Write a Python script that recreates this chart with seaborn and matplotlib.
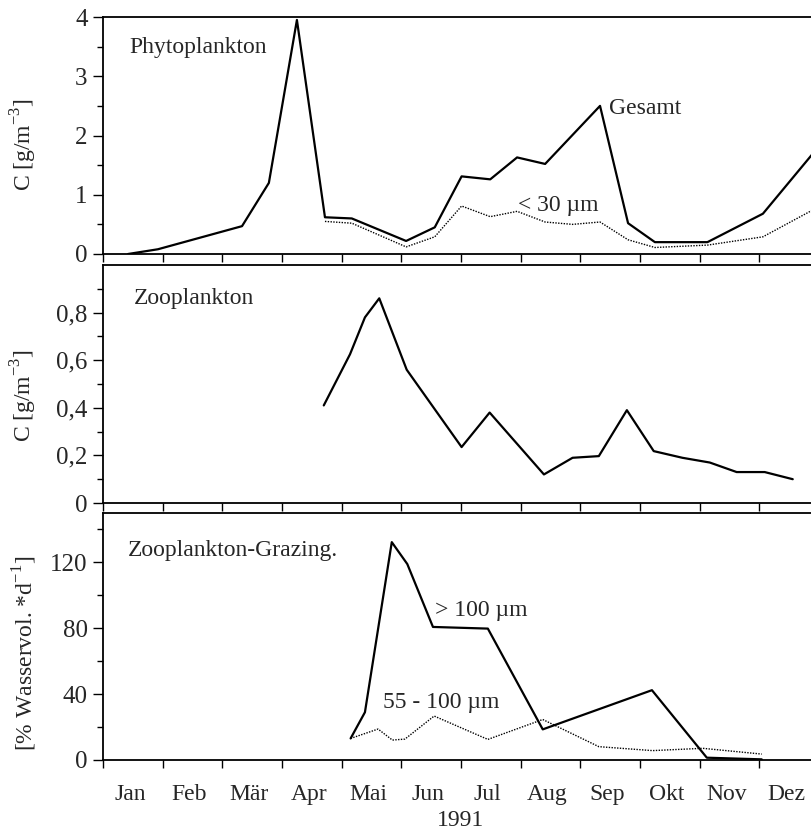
import matplotlib
matplotlib.use("Agg")
import matplotlib.pyplot as plt
import seaborn as sns
import pandas as pd
from matplotlib.ticker import MultipleLocator, FixedLocator

sns.set_style("ticks")
plt.rcParams['font.family'] = ['Liberation Serif', 'DejaVu Serif']
plt.rcParams['mathtext.fontset'] = 'custom'
plt.rcParams['mathtext.rm'] = 'Liberation Serif'

months = ["Jan", "Feb", "Mär", "Apr", "Mai", "Jun", "Jul", "Aug", "Sep", "Okt", "Nov", "Dez"]

# Phytoplankton (time in months since 1 Jan)
phyto_total_t = [0.42, 0.92, 2.33, 2.78, 3.25, 3.72, 4.17, 5.08, 5.56, 6.01, 6.49, 6.94, 7.41, 8.33, 8.80, 9.25, 10.13, 11.06, 12.0]
phyto_total_v = [0.0, 0.08, 0.47, 1.20, 3.95, 0.62, 0.60, 0.22, 0.45, 1.31, 1.26, 1.63, 1.52, 2.50, 0.52, 0.20, 0.20, 0.68, 1.82]
phyto_small_t = [3.72, 4.17, 5.08, 5.56, 6.01, 6.49, 6.94, 7.41, 7.87, 8.33, 8.80, 9.25, 10.13, 11.06, 12.0]
phyto_small_v = [0.55, 0.52, 0.12, 0.29, 0.81, 0.63, 0.72, 0.54, 0.50, 0.54, 0.24, 0.11, 0.15, 0.29, 0.80]

# Zooplankton
zoo_t = [3.70, 4.14, 4.39, 4.63, 5.09, 6.01, 6.48, 7.39, 7.87, 8.31, 8.78, 9.23, 9.71, 10.17, 10.62, 11.09, 11.56]
zoo_v = [0.41, 0.625, 0.78, 0.86, 0.56, 0.235, 0.38, 0.12, 0.19, 0.197, 0.39, 0.218, 0.19, 0.17, 0.13, 0.13, 0.10]

# Zooplankton grazing
graz_big_t = [4.15, 4.39, 4.84, 5.10, 5.53, 6.45, 7.37, 9.20, 10.12, 11.04]
graz_big_v = [13.1, 29.0, 132.3, 119.0, 80.8, 79.8, 18.6, 42.4, 1.4, 0.4]
graz_mid_t = [4.15, 4.61, 4.85, 5.06, 5.55, 6.45, 7.37, 8.31, 9.21, 10.05, 11.04]
graz_mid_v = [13.1, 18.8, 12.1, 12.7, 26.7, 12.5, 24.6, 8.1, 5.7, 7.1, 3.6]

FS = 17
W, H = 812, 832
fig = plt.figure(figsize=(W / 100, H / 100), dpi=100)

def ax_at(top, bottom, left=103, right=819):
    return fig.add_axes([left / W, 1 - bottom / H, (right - left) / W, (bottom - top) / H])

ax1 = ax_at(17, 254)
ax2 = ax_at(265, 503)
ax3 = ax_at(513, 760)

solid = dict(color="black", linewidth=1.6, estimator=None, sort=False)
dotted = dict(color="black", linewidth=1.0, estimator=None, sort=False, linestyle=(0, (1, 1)))

sns.lineplot(data=pd.DataFrame({"t": phyto_total_t, "v": phyto_total_v}), x="t", y="v", ax=ax1, **solid)
sns.lineplot(data=pd.DataFrame({"t": phyto_small_t, "v": phyto_small_v}), x="t", y="v", ax=ax1, **dotted)
sns.lineplot(data=pd.DataFrame({"t": zoo_t, "v": zoo_v}), x="t", y="v", ax=ax2, **solid)
sns.lineplot(data=pd.DataFrame({"t": graz_big_t, "v": graz_big_v}), x="t", y="v", ax=ax3, **solid)
sns.lineplot(data=pd.DataFrame({"t": graz_mid_t, "v": graz_mid_v}), x="t", y="v", ax=ax3, **dotted)

ax1.set_ylim(0, 4)
ax1.yaxis.set_major_locator(MultipleLocator(1))
ax1.yaxis.set_minor_locator(MultipleLocator(0.5))
ax2.set_ylim(0, 1.0)
ax2.yaxis.set_major_locator(FixedLocator([0, 0.2, 0.4, 0.6, 0.8]))
ax2.yaxis.set_minor_locator(FixedLocator([0.1, 0.3, 0.5, 0.7, 0.9]))
ax2.yaxis.set_major_formatter(plt.FuncFormatter(lambda v, p: "0" if v == 0 else f"{v:.1f}".replace(".", ",")))
ax3.set_ylim(0, 150)
ax3.yaxis.set_major_locator(FixedLocator([0, 40, 80, 120]))
ax3.yaxis.set_minor_locator(FixedLocator([20, 60, 100, 140]))

for ax in (ax1, ax2, ax3):
    ax.set_xlim(0, 12)
    ax.xaxis.set_major_locator(MultipleLocator(1))
    ax.set_xticklabels([])
    ax.tick_params(axis="x", which="major", direction="out", length=6, width=1, color="black")
    ax.tick_params(axis="y", which="major", direction="out", length=7, width=1, color="black", labelsize=FS + 1, pad=4)
    ax.tick_params(axis="y", which="minor", direction="out", length=4, width=1, color="black")
    for s in ax.spines.values():
        s.set_color("black")
        s.set_linewidth(1.3)
    ax.set_xlabel("")
    ax.set_facecolor("white")

ax3.set_xticks([i + 0.45 for i in range(12)], minor=True)
ax3.set_xticklabels(months, minor=True)
ax3.tick_params(axis="x", which="minor", length=0, labelsize=FS, pad=17)
ax3.set_xlabel("1991", fontsize=FS, labelpad=4)

ax1.set_ylabel(r"C [g/m$^{\mathregular{-3}}$]", fontsize=FS)
ax2.set_ylabel(r"C [g/m$^{\mathregular{-3}}$]", fontsize=FS)
ax3.set_ylabel(r"[% Wasservol. *d$^{\mathregular{-1}}$]", fontsize=FS)
ax1.yaxis.set_label_coords(-0.089, 0.46)
ax2.yaxis.set_label_coords(-0.089, 0.45)
ax3.yaxis.set_label_coords(-0.089, 0.43)

ax1.text(0.45, 3.48, "Phytoplankton", fontsize=FS, va="center", ha="left")
ax1.text(8.48, 2.45, "Gesamt", fontsize=FS, va="center", ha="left")
ax1.text(6.95, 0.82, "< 30 µm", fontsize=FS, va="center", ha="left")
ax2.text(0.52, 0.86, "Zooplankton", fontsize=FS, va="center", ha="left")
ax3.text(0.42, 127, "Zooplankton-Grazing.", fontsize=FS, va="center", ha="left")
ax3.text(5.57, 91, "> 100 µm", fontsize=FS, va="center", ha="left")
ax3.text(4.69, 35, "55 - 100 µm", fontsize=FS, va="center", ha="left")

fig.savefig("out.png", dpi=100, facecolor="white")
